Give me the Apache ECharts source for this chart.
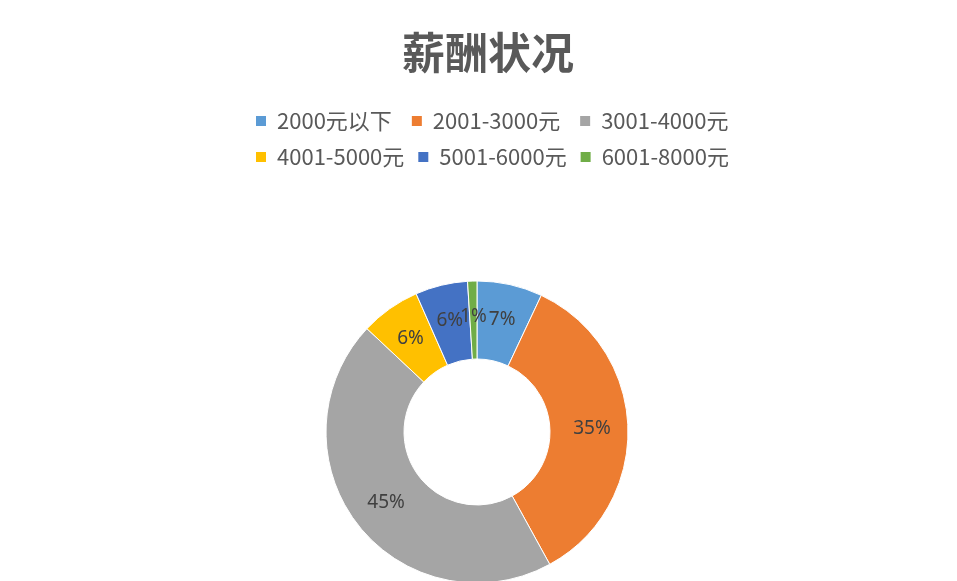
<!DOCTYPE html>
<html>
<head>
<meta charset="utf-8">
<title>薪酬状况</title>
<script src="https://cdn.jsdelivr.net/npm/echarts@6/dist/echarts.min.js"></script>
<style>
  html, body { margin: 0; padding: 0; background: #fff; }
  #main { width: 957px; height: 581px; }
</style>
</head>
<body>
<div id="main"></div>
<script>
// 数据
var categories = ['2000元以下', '2001-3000元', '3001-4000元', '4001-5000元', '5001-6000元', '6001-8000元'];
var values = [7, 35, 45, 6.4, 5.6, 1];
var colors = ['#5B9BD5', '#ED7D31', '#A5A5A5', '#FFC000', '#4472C4', '#70AD47'];

var pieData = [];
for (var i = 0; i < categories.length; i++) {
  pieData.push({ name: categories[i], value: values[i] });
}

var legendText = {
  fontFamily: 'Noto Sans CJK SC',
  fontSize: 22,
  color: '#595959',
  padding: [0, 0, 0, 5]
};

var myChart = echarts.init(document.getElementById('main'));
var option = {
  backgroundColor: '#ffffff',
  color: colors,
  title: {
    text: '薪酬状况',
    left: 397,
    top: 26,
    textStyle: {
      fontFamily: 'Noto Sans CJK SC',
      fontSize: 43,
      fontWeight: 'bold',
      color: '#595959'
    }
  },
  legend: [
    {
      data: categories.slice(0, 3),
      left: 254,
      top: 110,
      padding: 0,
      itemWidth: 12,
      itemHeight: 12,
      itemGap: 18,
      icon: 'rect',
      textStyle: legendText
    },
    {
      data: categories.slice(3),
      left: 254,
      top: 146,
      padding: 0,
      itemWidth: 12,
      itemHeight: 12,
      itemGap: 12,
      icon: 'rect',
      textStyle: legendText
    }
  ],
  series: [
    {
      type: 'pie',
      center: [477, 432],
      radius: [73, 151],
      startAngle: 90,
      clockwise: true,
      avoidLabelOverlap: false,
      minShowLabelAngle: 0,
      animation: false,
      itemStyle: {
        borderColor: '#ffffff',
        borderWidth: 1
      },
      label: {
        show: true,
        position: 'inside',
        formatter: function (p) {
          return Math.round(p.percent) + '%';
        },
        fontFamily: 'Noto Sans',
        fontSize: 19,
        color: '#404040'
      },
      labelLayout: { hideOverlap: false },
      labelLine: { show: false },
      data: pieData
    }
  ]
};
myChart.setOption(option);
</script>
</body>
</html>
